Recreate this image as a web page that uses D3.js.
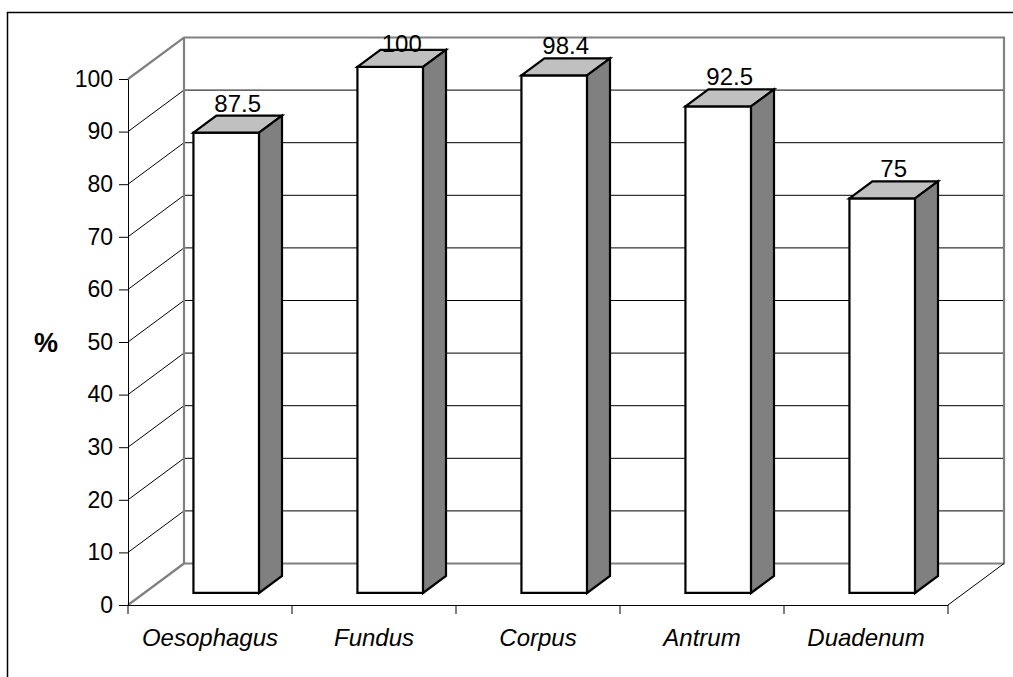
<!DOCTYPE html>
<html>
<head>
<meta charset="utf-8">
<script src="https://cdn.jsdelivr.net/npm/d3@7/dist/d3.min.js"></script>
<style>
  html, body { margin: 0; padding: 0; background: #fff; }
  svg { display: block; }
  text { font-family: "Liberation Sans", Arial, sans-serif; fill: #000; }
</style>
</head>
<body>
<svg id="chart" width="1013" height="677"></svg>
<script>
// Data
const categories = ["Oesophagus", "Fundus", "Corpus", "Antrum", "Duadenum"];
const values = [87.5, 100, 98.4, 92.5, 75];
const yTicks = [0, 10, 20, 30, 40, 50, 60, 70, 80, 90, 100];
const yLabel = "%";

// Layout
const W = 1013, H = 677;
const front = { left: 128, right: 948, top: 79, bottom: 605 };
const DX = 56, DY = 41.5;          // depth offset of the back wall
const F0 = 0.29, F1 = 0.70;        // depth span of each bar

const svg = d3.select("#chart");

// outer chart frame (extends past the right/bottom edge)
svg.append("rect")
  .attr("x", 7.5).attr("y", 12.5)
  .attr("width", W + 20).attr("height", H + 20)
  .attr("fill", "#fff").attr("stroke", "#000").attr("stroke-width", 1.5);

const y = d3.scaleLinear().domain([0, 100]).range([front.bottom, front.top]);
const x = d3.scaleBand().domain(categories)
  .range([front.left, front.right])
  .paddingInner(0.6).paddingOuter(0.3);

// project a front-plane point (px, value) back by depth fraction f
const proj = (px, v, f) => [px + f * DX, y(v) - f * DY];
const line = pts => "M" + pts.map(p => p.join(",")).join("L");

const walls = svg.append("g");

// gridlines: diagonal on the side wall, horizontal on the back wall
yTicks.filter(t => t > 0 && t < 100).forEach(t => {
  walls.append("path")
    .attr("d", line([proj(front.left, t, 0), proj(front.left, t, 1), proj(front.right, t, 1)]))
    .attr("fill", "none").attr("stroke", "#000").attr("stroke-width", 1);
});

// gray wall edges
const grey = { fill: "none", stroke: "#808080", "stroke-width": 2.2 };
const edges = [
  [proj(front.left, 100, 0), proj(front.left, 100, 1), proj(front.right, 100, 1), proj(front.right, 0, 1), proj(front.left, 0, 1), proj(front.left, 100, 1)],
  [proj(front.left, 0, 0), proj(front.left, 0, 1)]
];
edges.forEach(e => {
  const p = walls.append("path").attr("d", line(e));
  Object.entries(grey).forEach(([k, v]) => p.attr(k, v));
});

// floor: front edge and right diagonal
walls.append("path")
  .attr("d", line([[front.left, y(0) + 0.5], [front.right, y(0) + 0.5]]))
  .attr("stroke", "#000").attr("stroke-width", 1).attr("fill", "none");
walls.append("path")
  .attr("d", line([proj(front.right, 0, 0), proj(front.right, 0, 1)]))
  .attr("stroke", "#000").attr("stroke-width", 1).attr("fill", "none");

// value axis
const yAxis = svg.append("g")
  .attr("transform", `translate(${front.left},0)`)
  .call(d3.axisLeft(y).tickValues(yTicks).tickSize(9).tickSizeOuter(0).tickPadding(6));
yAxis.select(".domain").attr("stroke", "#000").attr("stroke-width", 1);
yAxis.selectAll(".tick line").attr("stroke", "#000").attr("stroke-width", 1);
yAxis.selectAll("text")
  .style("font-family", "'Liberation Sans', Arial, sans-serif")
  .style("font-size", "23px").attr("fill", "#000");

svg.append("text")
  .attr("x", 46).attr("y", y(50) + 10)
  .attr("text-anchor", "middle")
  .style("font-size", "27px").style("font-weight", "bold")
  .text(yLabel);

// category axis: ticks at band boundaries, labels at band centres
const catTicks = d3.range(categories.length + 1).map(i => front.left + i * x.step());
svg.append("g").selectAll("line").data(catTicks).join("line")
  .attr("x1", d => d).attr("x2", d => d)
  .attr("y1", y(0)).attr("y2", y(0) + 9)
  .attr("stroke", "#000").attr("stroke-width", 1);

const xAxis = svg.append("g")
  .attr("transform", `translate(0,${y(0)})`)
  .call(d3.axisBottom(x).tickSize(0).tickPadding(24));
xAxis.select(".domain").remove();
xAxis.selectAll("text")
  .style("font-family", "'Liberation Sans', Arial, sans-serif")
  .style("font-size", "24px").style("font-style", "italic").attr("fill", "#000");

// 3-D bars
const bw = x.bandwidth();
const bars = svg.append("g").selectAll("g")
  .data(categories.map((c, i) => ({ c, v: values[i] })))
  .join("g");

const barStroke = g => g.attr("stroke", "#000").attr("stroke-width", 2.2).attr("stroke-linejoin", "miter");

bars.append("path")
  .attr("d", d => {
    const xl = x(d.c), xr = xl + bw;
    return line([proj(xl, d.v, F0), proj(xr, d.v, F0), proj(xr, 0, F0), proj(xl, 0, F0)]) + "Z";
  })
  .attr("fill", "#fff").call(barStroke);

bars.append("path")
  .attr("d", d => {
    const xl = x(d.c), xr = xl + bw;
    return line([proj(xl, d.v, F0), proj(xr, d.v, F0), proj(xr, d.v, F1), proj(xl, d.v, F1)]) + "Z";
  })
  .attr("fill", "#c0c0c0").call(barStroke);

bars.append("path")
  .attr("d", d => {
    const xr = x(d.c) + bw;
    return line([proj(xr, d.v, F0), proj(xr, d.v, F1), proj(xr, 0, F1), proj(xr, 0, F0)]) + "Z";
  })
  .attr("fill", "#808080").call(barStroke);

// value labels above the top faces, kept inside the chart area
const labelMinY = proj(front.left, 100, 1)[1] + 14;
bars.append("text")
  .attr("x", d => proj(x(d.c) + bw / 2, d.v, (F0 + F1) / 2)[0])
  .attr("y", d => Math.max(proj(0, d.v, F1)[1] - 4, labelMinY))
  .attr("text-anchor", "middle")
  .style("font-size", "24px")
  .text(d => d.v);
</script>
</body>
</html>
